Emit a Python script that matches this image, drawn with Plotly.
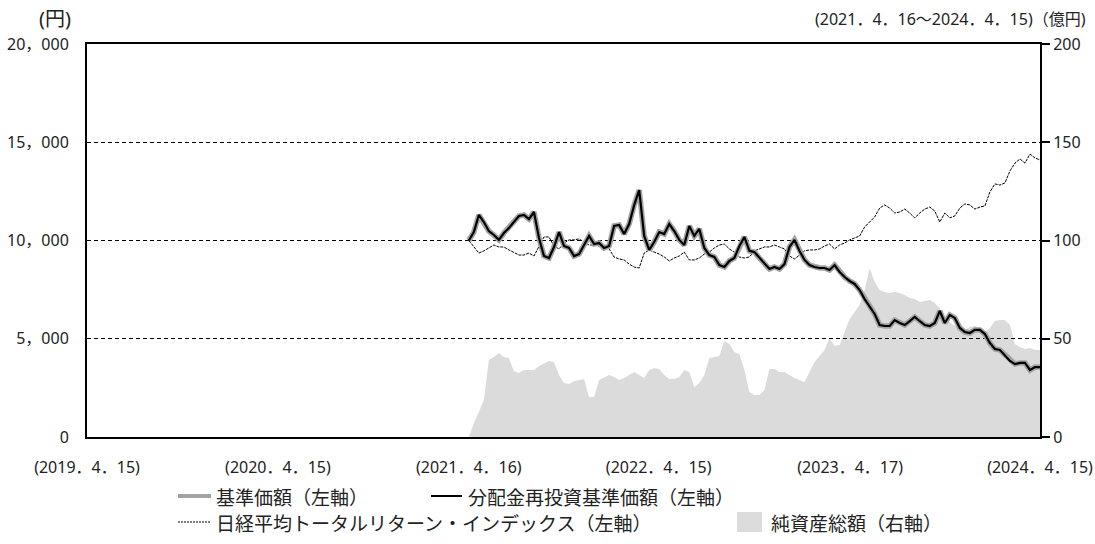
import plotly.graph_objects as go
import pandas as pd

# ---- data ----
dates = pd.date_range("2021-04-16", "2024-04-15", periods=115)

reinvest_price = [
    10000, 10430, 11300, 10940, 10480, 10280, 10030, 10380, 10640, 10940,
    11250, 11300, 11090, 11450, 10130, 9210, 9110, 9670, 10430, 9720,
    9620, 9210, 9310, 9770, 10230, 9820, 9870, 9620, 9720, 10740,
    10790, 10330, 10840, 11800, 12570, 10230, 9520, 9920, 10430, 10330,
    10840, 10480, 10030, 9770, 10740, 10230, 10590, 9620, 9260, 9160,
    8750, 8650, 8960, 9110, 9720, 10180, 9470, 9410, 9110, 8800,
    8550, 8650, 8550, 8800, 9670, 10030, 9470, 9010, 8750, 8650,
    8600, 8600, 8500, 8750, 8400, 8140, 7940, 7790, 7480, 7020,
    6670, 6260, 5700, 5650, 5650, 5950, 5800, 5700, 5900, 6110,
    5900, 5700, 5650, 5800, 6410, 5800, 6210, 6060, 5550, 5340,
    5290, 5450, 5450, 5240, 4780, 4480, 4430, 4170, 3870, 3710,
    3770, 3770, 3410, 3560, 3560,
]
# no distributions were paid, so the base price equals the reinvested price
base_price = list(reinvest_price)

nikkei_tr = [
    10000, 9670, 9360, 9470, 9620, 9770, 9670, 9670, 9520, 9410,
    9260, 9260, 9360, 9210, 9670, 10180, 10180, 9720, 9570, 9870,
    10030, 10030, 10080, 9920, 9770, 9770, 9720, 9770, 9570, 9160,
    9060, 9010, 8800, 8650, 8600, 9360, 9520, 9410, 9310, 9160,
    8960, 9110, 9210, 9410, 9010, 9010, 9110, 9310, 9410, 9620,
    9770, 9820, 9570, 9410, 9160, 9110, 9160, 9470, 9570, 9670,
    9670, 9770, 9670, 9570, 9210, 9060, 9260, 9470, 9520, 9520,
    9570, 9720, 9820, 9570, 9770, 9870, 10030, 10130, 10230, 10690,
    10940, 11200, 11650, 11810, 11650, 11400, 11450, 11600, 11400, 11150,
    11400, 11600, 11700, 11500, 10940, 11400, 11150, 11250, 11650, 11860,
    11810, 11600, 11700, 11760, 12470, 12880, 12820, 12930, 13540, 13940,
    14150, 13940, 14400, 14200, 14100,
]

net_assets = [
    0, 7.1, 12.7, 18.8, 39.2, 40.7, 42.7, 40.7, 40.2, 33.6,
    32.6, 34.1, 34.1, 34.1, 36.1, 37.2, 38.7, 38.2, 31.6, 27.5,
    27.0, 28.5, 29.0, 29.5, 20.4, 20.4, 29.0, 30.5, 31.6, 30.5,
    29.0, 30.0, 31.6, 33.1, 31.6, 30.0, 34.1, 35.1, 34.6, 31.6,
    29.5, 29.5, 30.5, 34.1, 33.1, 25.4, 27.5, 31.6, 40.2, 40.7,
    41.2, 48.9, 47.3, 43.3, 42.2, 34.1, 22.9, 21.4, 21.4, 23.9,
    34.6, 34.6, 33.1, 33.1, 31.6, 30.0, 29.0, 28.0, 33.1, 38.2,
    41.2, 44.3, 50.4, 46.3, 46.8, 53.4, 60.1, 63.6, 67.2, 74.8,
    86.0, 78.9, 74.8, 73.8, 73.3, 73.8, 73.3, 72.3, 70.7, 70.2,
    68.7, 69.2, 69.7, 68.2, 65.6, 60.1, 58.5, 56.5, 55.0, 54.5,
    56.0, 56.5, 55.5, 53.4, 55.5, 59.0, 59.5, 59.5, 57.0, 47.3,
    45.8, 44.8, 45.3, 44.3, 44.3,
]

x_tick_dates = ["2019-04-15", "2020-04-15", "2021-04-16", "2022-04-15", "2023-04-17", "2024-04-15"]
x_tick_text = ["(2019．4．15)", "(2020．4．15)", "(2021．4．16)", "(2022．4．15)", "(2023．4．17)", "(2024．4．15)"]
left_ticks = [0, 5000, 10000, 15000, 20000]
left_tick_text = ["0", "5，000", "10，000", "15，000", "20，000"]
right_ticks = [0, 50, 100, 150, 200]

legend_labels = ["基準価額（左軸）", "分配金再投資基準価額（左軸）",
                 "日経平均トータルリターン・インデックス（左軸）", "純資産総額（右軸）"]

NUMFONT = "Noto Sans, Noto Sans CJK JP"
JPFONT = "Noto Sans CJK JP"
TXT = "#222"

fig = go.Figure()

# net assets (right axis) - drawn first so lines sit on top
fig.add_trace(go.Scatter(
    x=dates, y=net_assets, yaxis="y", mode="lines",
    fill="tozeroy", fillcolor="rgba(0,0,0,0.14)",
    line=dict(width=0, color="rgba(0,0,0,0)"),
    name=legend_labels[3], showlegend=False, hoverinfo="skip",
))
# Nikkei total return index
fig.add_trace(go.Scatter(
    x=dates, y=nikkei_tr, yaxis="y2", mode="lines",
    line=dict(color="black", width=1, dash="3px,1px"),
    name=legend_labels[2], showlegend=False,
))
# base price (grey, wide)
fig.add_trace(go.Scatter(
    x=dates, y=base_price, yaxis="y2", mode="lines",
    line=dict(color="#a3a3a3", width=5.5),
    name=legend_labels[0], showlegend=False,
))
# reinvested base price (black)
fig.add_trace(go.Scatter(
    x=dates, y=reinvest_price, yaxis="y2", mode="lines",
    line=dict(color="black", width=2.2),
    name=legend_labels[1], showlegend=False,
))

W, H = 1095, 544
L, R, T, B = 87, 1040, 44, 437


def px(x):
    return (x - L) / (R - L)


def py(y):
    return (B - y) / (B - T)


ROW1, ROW2 = 496, 522
LEG_SIZE = 19

shapes = [
    dict(type="line", xref="paper", yref="paper", x0=px(178), x1=px(211), y0=py(ROW1), y1=py(ROW1),
         line=dict(color="#a3a3a3", width=4)),
    dict(type="line", xref="paper", yref="paper", x0=px(431), x1=px(462), y0=py(ROW1), y1=py(ROW1),
         line=dict(color="black", width=2)),
    dict(type="line", xref="paper", yref="paper", x0=px(178), x1=px(211), y0=py(ROW2), y1=py(ROW2),
         line=dict(color="black", width=1, dash="2px,1px")),
    dict(type="rect", xref="paper", yref="paper", x0=px(737), x1=px(762), y0=py(ROW2 - 10), y1=py(ROW2 + 10),
         line=dict(width=0), fillcolor="#dcdcdc"),
]


def leg_text(text, x, y):
    return dict(text=text, xref="paper", yref="paper", x=px(x), y=py(y), xanchor="left",
                yanchor="middle", showarrow=False, height=22, borderpad=0,
                font=dict(size=LEG_SIZE, family=JPFONT, color=TXT))


annotations = [
    dict(text="(円)", xref="paper", yref="paper", x=px(73), y=py(19), xanchor="right", yanchor="middle",
         showarrow=False, font=dict(size=20, family=NUMFONT, color=TXT)),
    dict(text="(2021．4．16～2024．4．15)（億円)", xref="paper", yref="paper", x=px(1088), y=py(19),
         xanchor="right", yanchor="middle", showarrow=False, font=dict(size=16, family=NUMFONT, color=TXT)),
    leg_text(legend_labels[0], 215, ROW1),
    leg_text(legend_labels[1], 467, ROW1),
    leg_text(legend_labels[2], 215, ROW2),
    leg_text(legend_labels[3], 770, ROW2),
]

fig.update_layout(
    width=W, height=H,
    margin=dict(l=L, r=W - R, t=T, b=H - B, pad=0, autoexpand=False),
    paper_bgcolor="white", plot_bgcolor="white",
    font=dict(family=NUMFONT, size=16, color=TXT),
    showlegend=False,
    xaxis=dict(
        type="date", range=["2019-04-15", "2024-04-15"],
        tickvals=x_tick_dates, ticktext=x_tick_text,
        showgrid=False, zeroline=False, automargin=False,
        showline=True, linecolor="black", linewidth=2, mirror=True,
        ticks="outside", ticklen=15, tickcolor="rgba(0,0,0,0)",
        tickfont=dict(size=16, family=NUMFONT, color=TXT),
    ),
    yaxis=dict(
        range=[0, 200], side="right", tickvals=right_ticks,
        showgrid=True, gridcolor="black", gridwidth=1, griddash="4px,3px",
        zeroline=False, automargin=False,
        showline=True, linecolor="black", linewidth=2, mirror=True,
        ticks="outside", ticklen=8, tickwidth=1.5, tickcolor="black",
        tickfont=dict(size=16, family=NUMFONT, color=TXT),
    ),
    yaxis2=dict(
        range=[0, 20000], side="left", overlaying="y",
        tickvals=left_ticks, ticktext=left_tick_text,
        showgrid=False, zeroline=False, automargin=False,
        showline=True, linecolor="black", linewidth=2,
        ticks="outside", ticklen=13, tickcolor="rgba(0,0,0,0)",
        tickfont=dict(size=16, family=NUMFONT, color=TXT),
    ),
    shapes=shapes,
    annotations=annotations,
)

fig.write_html("out.html", config={"displayModeBar": False},
               post_script="document.body.style.margin='0';")
